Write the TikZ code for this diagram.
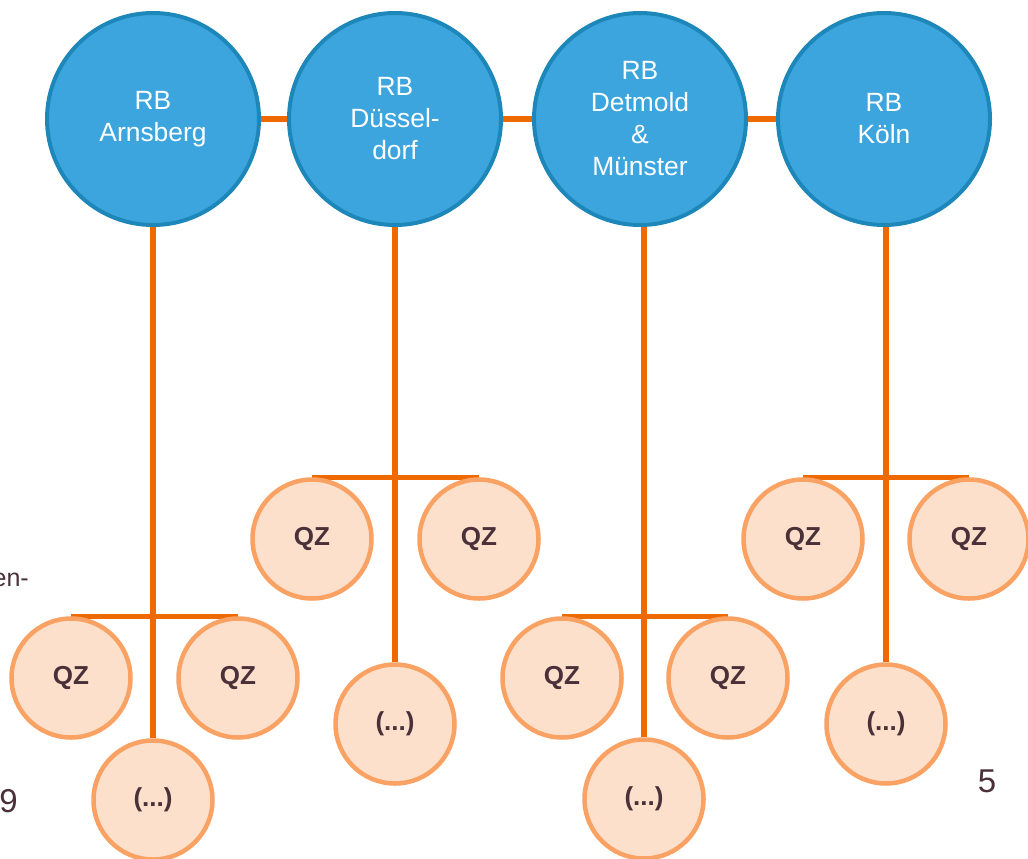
\documentclass[tikz,border=0pt]{standalone}
\usepackage{fontspec}
\setmainfont{Liberation Sans}
\usetikzlibrary{backgrounds}
\definecolor{rbfill}{HTML}{3CA5DD}
\definecolor{rbdraw}{HTML}{1E87BA}
\definecolor{qzfill}{HTML}{FCE0CB}
\definecolor{qzdraw}{HTML}{F9A263}
\definecolor{link}{HTML}{EE6A00}
\definecolor{ink}{HTML}{4A3139}
\tikzset{
  rb/.style={circle, fill=rbfill, draw=rbdraw, line width=4pt, minimum size=212pt, inner sep=0pt,
    align=center, text=white, font=\fontsize{26.4}{32}\selectfont},
  qz/.style={circle, fill=qzfill, draw=qzdraw, line width=4.5pt, minimum size=119pt, inner sep=0pt,
    text=ink, font=\fontsize{26}{30}\selectfont\bfseries},
  lnk/.style={draw=link, line width=5.5pt},
  side/.style={text=ink, inner sep=0pt}
}
\begin{document}
\begin{tikzpicture}[x=1pt,y=-1pt]
\useasboundingbox (0,0) rectangle (1028,859);
% regional circles
\node[rb] (A) at (153,119) {RB\\Arnsberg};
\node[rb] (D) at (395,119) {RB\\Düssel-\\dorf};
\node[rb] (M) at (640,119) {RB\\Detmold\\\&\\Münster};
\node[rb] (K) at (884,119) {RB\\Köln};
% Arnsberg group
\node[qz] (a1) at (71,678) {QZ};
\node[qz] (a2) at (238,678) {QZ};
\node[qz] (a3) at (153,800) {(...)};
% Duesseldorf group
\node[qz] (d1) at (312,539) {QZ};
\node[qz] (d2) at (479,539) {QZ};
\node[qz] (d3) at (395,724) {(...)};
% Detmold group
\node[qz] (m1) at (562,678) {QZ};
\node[qz] (m2) at (728,678) {QZ};
\node[qz] (m3) at (644,799) {(...)};
% Koeln group
\node[qz] (k1) at (803,539) {QZ};
\node[qz] (k2) at (969,539) {QZ};
\node[qz] (k3) at (886,724) {(...)};
% side fragments
\node[side, anchor=base east, font=\fontsize{25}{30}\selectfont] (t1) at (29,586) {en-};
\node[side, anchor=base east, font=\fontsize{33}{38}\selectfont] (t2) at (18,812) {9};
\node[side, anchor=base, font=\fontsize{33}{38}\selectfont] (t3) at (987,792) {5};
\begin{scope}[on background layer]
  \draw[lnk] (A) -- (D);
  \draw[lnk] (D) -- (M);
  \draw[lnk] (M) -- (K);
  \draw[lnk] (a1.north) -- (a2.north);
  \draw[lnk] (A.south) -- (a3.north);
  \draw[lnk] (d1.north) -- (d2.north);
  \draw[lnk] (D.south) -- (d3.north);
  \draw[lnk] (m1.north) -- (m2.north);
  \draw[lnk] (M.south -| m3.north) -- (m3.north);
  \draw[lnk] (k1.north) -- (k2.north);
  \draw[lnk] (K.south -| k3.north) -- (k3.north);
\end{scope}
\end{tikzpicture}
\end{document}
